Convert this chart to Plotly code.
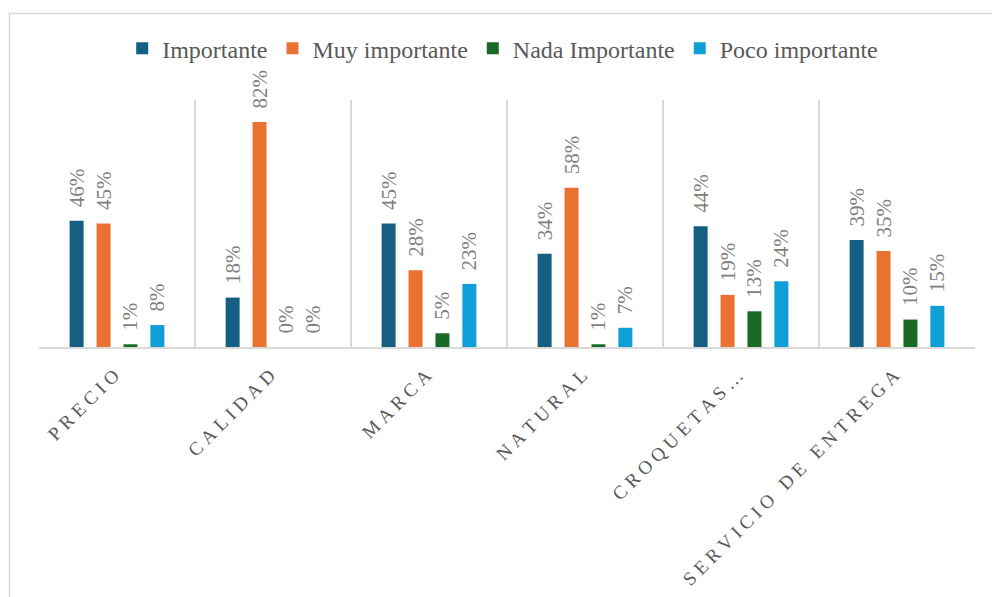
import plotly.graph_objects as go

categories = ["PRECIO", "CALIDAD", "MARCA", "NATURAL", "CROQUETAS\u2026", "SERVICIO DE ENTREGA"]
series_names = ["Importante", "Muy importante", "Nada Importante", "Poco importante"]
importante = [46, 18, 45, 34, 44, 39]
muy_importante = [45, 82, 28, 58, 19, 35]
nada_importante = [1, 0, 5, 1, 13, 10]
poco_importante = [8, 0, 23, 7, 24, 15]
colors = ["#156082", "#E97132", "#196B24", "#0F9ED5"]

values = [importante, muy_importante, nada_importante, poco_importante]

NB = "\u00a0"
SERIF = "Liberation Serif, Times New Roman, serif"


def spaced(label):
    words = label.split(" ")
    return (NB + " " + NB).join(NB.join(list(w)) for w in words) + NB


ticktext = [spaced(c) for c in categories]

fig = go.Figure()
for name, vals, col in zip(series_names, values, colors):
    fig.add_trace(go.Bar(
        name=name,
        x=categories,
        y=vals,
        marker=dict(color=col, line=dict(width=0)),
        text=[NB + NB + f"{v}%" for v in vals],
        textposition="outside",
        textangle=-90,
        constraintext="none",
        cliponaxis=False,
        textfont=dict(family=SERIF, size=21, color="#7f7f7f"),
        hoverinfo="skip",
    ))

fig.update_layout(
    width=992,
    height=597,
    barmode="group",
    bargap=0.31,
    bargroupgap=0.48,
    margin=dict(l=39, r=17, t=100, b=250, autoexpand=False),
    paper_bgcolor="white",
    plot_bgcolor="white",
    font=dict(family=SERIF, color="#595959"),
    legend=dict(
        orientation="h",
        x=0.4954,
        xanchor="center",
        y=1.208,
        yanchor="middle",
        bgcolor="rgba(0,0,0,0)",
        font=dict(family=SERIF, size=24, color="#595959"),
        itemwidth=30,
        traceorder="normal",
    ),
    xaxis=dict(
        type="category",
        tickvals=categories,
        ticktext=ticktext,
        tickangle=-45,
        tickson="boundaries",
        showgrid=True,
        gridcolor="#d9d9d9",
        gridwidth=1.5,
        showline=True,
        linecolor="#d9d9d9",
        linewidth=1.5,
        ticks="",
        ticklabelstandoff=5,
        automargin=False,
        tickfont=dict(family=SERIF, size=19, color="#595959"),
        range=[-0.5, len(categories) - 0.5],
        fixedrange=True,
    ),
    yaxis=dict(
        range=[0, 90],
        visible=False,
        showgrid=False,
        zeroline=False,
        fixedrange=True,
    ),
    shapes=[dict(
        type="rect",
        xref="paper", yref="paper",
        x0=(9.5 - 39) / 936, x1=(1000 - 39) / 936,
        y0=(347 - 610) / 247, y1=(347 - 13.5) / 247,
        line=dict(color="#d9d9d9", width=1.5),
        fillcolor="rgba(0,0,0,0)",
        layer="below",
    )],
)

fig.write_html("out.html")
